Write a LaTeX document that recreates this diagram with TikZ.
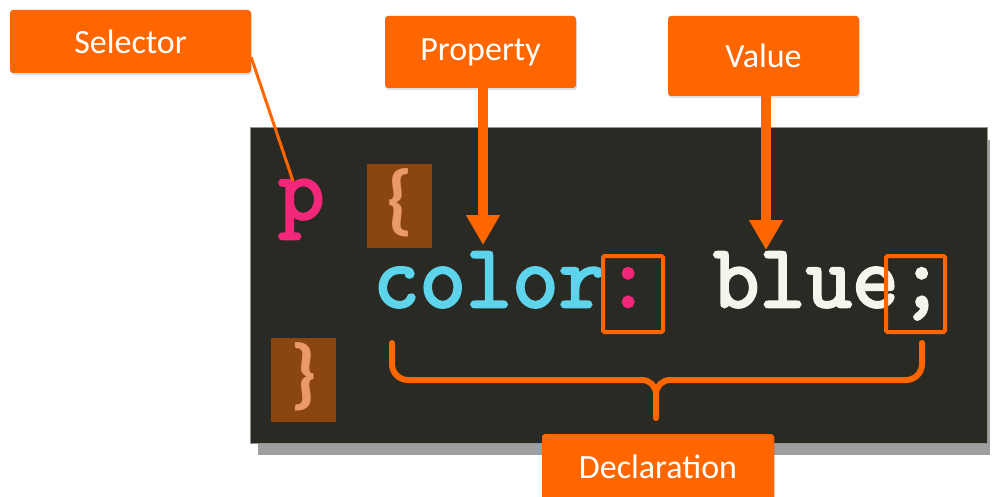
\documentclass[tikz,border=0pt]{standalone}
\usepackage{fontspec}
\setmainfont{Carlito}
\newfontfamily\codefont{Latin Modern Mono}[FakeBold=3]
\usetikzlibrary{arrows.meta,shadows}
\definecolor{orng}{HTML}{FF6600}
\definecolor{codebg}{HTML}{2A2A24}
\definecolor{bracebg}{HTML}{8B4511}
\definecolor{bracefg}{HTML}{E99A66}
\definecolor{pinkc}{HTML}{F2277A}
\definecolor{cyanc}{HTML}{5ED3EC}
\definecolor{cream}{HTML}{F5F5EE}
\tikzset{lbl/.style={fill=orng,rounded corners=3pt,text=white,inner sep=0pt,font=\fontsize{34}{40}\selectfont,drop shadow={opacity=0.25,shadow xshift=1pt,shadow yshift=-2pt}},
  pnt/.style={draw=orng,line width=10pt,-{Triangle[width=32pt,length=30pt]}},
  code/.style={inner sep=0pt,anchor=base west,text height=0.6em,font=\fontsize{90}{92}\selectfont\codefont},
  brbox/.style={fill=bracebg,minimum width=65pt,minimum height=84pt,inner sep=0pt,text=bracefg,font=\fontsize{78}{82}\selectfont\bfseries},
  hlbox/.style={draw=orng,line width=4pt,rounded corners=1.5pt,inner sep=0pt},
  brc/.style={orng,line width=6pt,line cap=round,line join=round}}

\begin{document}
\begin{tikzpicture}[x=1pt,y=-1pt]
\useasboundingbox (0,0) rectangle (992,497);
% code panel
\fill[black!38] (258,140) rectangle (990,455);
\draw[fill=codebg,draw=black!40!cream,line width=1pt] (250,128) rectangle (987,443);
\node[brbox] (lbr) at (399.5,206) {\smash{\raisebox{-19pt}{\{}}};
\node[brbox] (rbr) at (303.5,380) {\smash{\raisebox{-19pt}{\}}}};
\node[code,text=pinkc] (sel-p) at (278,219) {p};
\node[code] (decl-line) at (373,307) {\textcolor{cyanc}{color}\textcolor{pinkc}{:} \textcolor{cream}{blue;}};
\node[hlbox,minimum width=60pt,minimum height=76pt] (colon) at (633,294) {};
\node[hlbox,minimum width=59pt,minimum height=76pt] (semi) at (915.5,294) {};
% brace under the declaration
\draw[brc] (392,343) -- (392,364) to[out=-90,in=180] (408,380) -- (642,380) to[out=0,in=90] (656,394) -- (656,418);
\draw[brc] (922,343) -- (922,364) to[out=-90,in=0] (906,380) -- (670,380) to[out=180,in=90] (656,394);
% labels
\node[lbl,minimum width=241pt,minimum height=63pt] (sel) at (130.5,41.5) {Selector};
\node[lbl,minimum width=191pt,minimum height=72pt] (prop) at (480.5,52) {Property};
\node[lbl,minimum width=191pt,minimum height=80pt] (val) at (763.5,56) {Value};
\node[lbl,minimum width=232pt,minimum height=66pt] (decl) at (658,467) {Declaration};
\coordinate (ptip) at (293,181);
\coordinate (proptip) at (483,245);
\coordinate (valtip) at (766,250);
\draw[orng,line width=3pt] ([yshift=16pt]sel.south east) -- (ptip);
\draw[pnt] (prop.south -| proptip) -- (proptip);
\draw[pnt] (val.south -| valtip) -- (valtip);
\end{tikzpicture}
\end{document}
